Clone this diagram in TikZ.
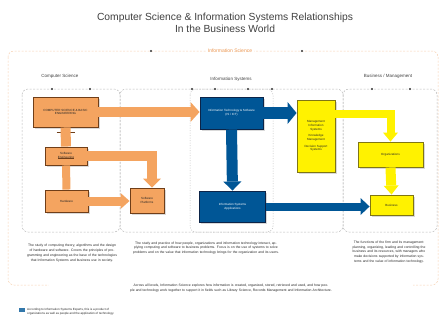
\documentclass[tikz,border=0pt]{standalone}
\usepackage{fontspec}
\setmainfont{Liberation Sans}
\usetikzlibrary{arrows.meta}
\usetikzlibrary{shadows}

\definecolor{csorange}{RGB}{244,164,96}
\definecolor{csbrown}{RGB}{112,62,24}
\definecolor{isblue}{RGB}{0,86,150}
\definecolor{isnavy}{RGB}{12,36,72}
\definecolor{bmyellow}{RGB}{255,242,0}
\definecolor{bmolive}{RGB}{128,118,20}
\definecolor{infoorange}{RGB}{236,150,80}

\tikzset{
  boxshadow/.style={drop shadow={shadow xshift=1.5pt,shadow yshift=-1.5pt,opacity=0.3}},
  csnode/.style={draw=csbrown, line width=0.9pt, fill=csorange, text=black!85,
    font=\fontsize{3}{3.7}\selectfont, align=center, inner sep=1pt, boxshadow},
  isnode/.style={draw=isnavy, line width=0.9pt, fill=isblue, text=white,
    font=\fontsize{3}{3.7}\selectfont, align=center, inner sep=1pt, boxshadow},
  bmnode/.style={draw=bmolive, line width=0.9pt, fill=bmyellow, text=black!85,
    font=\fontsize{3}{3.7}\selectfont, align=center, inner sep=1pt, boxshadow},
  csband/.style={draw=csorange, line width=#1},
  csband/.default=10pt,
  isband/.style={draw=isblue, line width=#1},
  isband/.default=11pt,
  bmband/.style={draw=bmyellow, line width=#1},
  bmband/.default=9pt,
  bigtip/.style={-{Triangle[width=#1,length=9pt,line width=0pt]}},
  bigtip/.default=20pt,
  region/.style={draw=gray!55, dashed, dash pattern=on 2pt off 1.5pt, line width=0.5pt, rounded corners=6pt},
  reglabel/.style={font=\fontsize{4.5}{5}\selectfont, text=black!75},
  desc/.style={font=\fontsize{3.4}{4.8}\selectfont, text=black!85, align=center, inner sep=1pt},
  tick/.style={draw=csbrown, line width=1pt},
  regdot/.style={fill=black!80}
}

\begin{document}
\begin{tikzpicture}[x=1pt, y=-1pt]
  \useasboundingbox (0,0) rectangle (442,325);

  % title
  \node[font=\fontsize{10.3}{12.5}\selectfont, text=black!75, align=center] (title) at (225,23)
    {Computer Science \& Information Systems Relationships\\In the Business World};

  % regions
  \draw[region, draw=infoorange!45] (8,51) rectangle (438,285);
  \draw[region] (22,89) rectangle (120,232);
  \draw[region] (120,89) rectangle (343,232);
  \draw[region, dash pattern=on 1pt off 1.5pt] (190,89) rectangle (273,232);
  \draw[region] (343,89) rectangle (437,232);
  \foreach \x in {52,90,192,215,248,272,372,410}
    \fill[regdot] (\x,89) circle (1.1pt);
  \foreach \x in {151,302}
    \fill[regdot] (\x,51) circle (1.1pt);

  \node[font=\fontsize{5}{6}\selectfont, text=infoorange, fill=white, inner sep=2pt] (infosci) at (230,51) {Information Science};
  \node[reglabel] (cslabel) at (60,76) {Computer Science};
  \node[reglabel] (islabel) at (231,79) {Information Systems};
  \node[reglabel] (bmlabel) at (388,76) {Business / Management};

  % computer science
  \node[csnode, minimum width=65pt, minimum height=30pt] (csbox) at (65.5,112)
    {COMPUTER SCIENCE \& BASIC\\ENGINEERING};
  \node[csnode, minimum width=42pt, minimum height=18pt] (sweng) at (66,156)
    {Software\\Engineering};
  \node[csnode, minimum width=43pt, minimum height=22pt] (hardw) at (66.5,201)
    {Hardware};
  \node[csnode, minimum width=34pt, minimum height=25pt] (platf) at (147,200.5)
    {Software\\Platforms};

  % information systems
  \node[isnode, minimum width=63pt, minimum height=32pt] (ittech) at (231.5,113)
    {Information Technology \& Software\\(IS / ICT)};
  \node[isnode, minimum width=66pt, minimum height=31pt] (infapp) at (232.5,206.5)
    {Information Systems\\Applications};

  % business / management
  \node[bmnode, minimum width=38pt, minimum height=72pt] (mis) at (316,136)
    {Management\\Information\\Systems\\[3pt]Knowledge\\Management\\[3pt]Decision Support\\Systems};
  \node[bmnode, minimum width=65pt, minimum height=25pt] (org) at (390.5,154.5)
    {Organizations};
  \node[bmnode, minimum width=43pt, minimum height=20pt] (busi) at (391.5,205)
    {Business};

  % bands
  \draw[tick] ([xshift=-9pt,yshift=-5pt]csbox.south) -- ++(18pt,0);
  \draw[tick] ([xshift=-8pt,yshift=7pt]sweng.south) -- ++(16pt,0);
  \draw[csband] (csbox.south) -- (sweng.north);
  \draw[csband=8pt] (hardw.north) -- (sweng.south);
  \draw[csband, bigtip] (csbox.east) -- (csbox.east -| ittech.west);
  \draw[csband, bigtip=18pt] (sweng.east) -| ([xshift=5pt]platf.north);
  \draw[csband=9pt, bigtip=16pt] (hardw.east) -- (hardw.east -| platf.west);

  \draw[isband=12pt, bigtip=22pt] (ittech.east) -- (ittech.east -| mis.west);
  \draw[isband, bigtip=18pt] (ittech.south) -- (infapp.north);
  \draw[isband=8pt, bigtip=17pt] (infapp.east) -- (infapp.east -| busi.west);

  \draw[bmband=8pt, bigtip=15pt] (mis.east |- 0,114) -| (org.north);
  \draw[bmband=10pt, bigtip=15pt] (org.south) -- (busi.north);

  % descriptions
  \node[desc, text width=93pt] (csdesc) at (72,253)
    {The study of computing theory, algorithms and the design of hardware and software. Covers the principles of programming and engineering as the base of the technologies that Information Systems and business use in society.};
  \node[desc, text width=166pt] (isdesc) at (206,248)
    {The study and practice of how people, organizations and information technology interact, applying computing and software to business problems. Focus is on the use of systems to solve problems and on the value that information technology brings for the organization and its users.};
  \node[desc, text width=88pt] (bmdesc) at (389,252)
    {The functions of the firm and its management: planning, organizing, leading and controlling the business and its resources, with managers who make decisions supported by information systems and the value of information technology.};
  \node[desc, text width=356pt, fill=white, inner xsep=4pt] (infodesc) at (231,288)
    {Across all levels, Information Science explores how information is created, organized, stored, retrieved and used, and how people and technology work together to support it in fields such as Library Science, Records Management and Information Architecture.};

  % footnote
  \fill[isblue!80] (19,308) rectangle (25,312);
  \node[desc, anchor=west, align=left, font=\fontsize{3}{4.3}\selectfont] (footnote) at (26,312)
    {According to Information Systems Experts, this is a product of\\organizations as well as people and the application of technology.};
\end{tikzpicture}
\end{document}
